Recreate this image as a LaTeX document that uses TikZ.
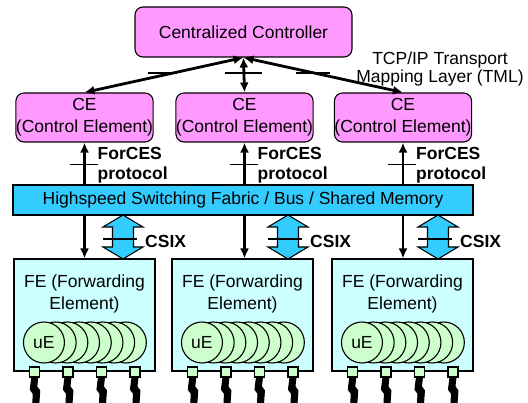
\documentclass[tikz,border=0pt]{standalone}
\usepackage{fontspec}
\setmainfont{Liberation Sans}
\usepackage{xcolor}
\usepackage{tikz}
\usetikzlibrary{arrows.meta}
\usetikzlibrary{calc}
\definecolor{ctlpink}{HTML}{FF99FF}
\definecolor{busblue}{HTML}{33CCFF}
\definecolor{fecyan}{HTML}{CCFFFF}
\definecolor{uegreen}{HTML}{CCFFCC}

\begin{document}
\begin{tikzpicture}[x=1pt,y=-1pt,
    every node/.style={font=\fontsize{17.5}{22}\selectfont},
    ctrlbox/.style={draw,rounded corners=8pt,fill=ctlpink,line width=1.1pt,align=center,inner sep=0pt},
    fabricbox/.style={draw,fill=busblue,line width=1.1pt,minimum width=460,minimum height=30,inner sep=0pt},
    febox/.style={draw,fill=fecyan,line width=1.1pt,minimum width=141,minimum height=112},
    link/.style={line width=2.8pt,-{Latex[length=10pt,width=9pt]}},
    duplink/.style={line width=2.8pt,{Latex[length=10pt,width=9pt]}-{Latex[length=10pt,width=9pt]}},
    tickline/.style={line width=1.5pt},
    csixarrow/.style={draw,fill=busblue,line width=1.1pt,line join=miter},
    boldlabel/.style={font=\fontsize{17.5}{20}\selectfont\bfseries,align=left,inner sep=0pt,anchor=west},
    ueball/.style={circle,draw,fill=uegreen,line width=1.1pt,minimum size=41,inner sep=0pt},
    portbox/.style={draw,fill=uegreen,line width=1.1pt,minimum size=10,inner sep=0pt},
    wire/.style={fill=black,draw=black,line width=1pt,line join=round}]
    \useasboundingbox (0,0) rectangle (528,403);
    % controller and control elements
    \node[ctrlbox,minimum width=217,minimum height=50] (ctrl) at (243.5,32) {Centralized Controller};
    \node[ctrlbox,minimum width=137,minimum height=49] (ce1) at (84.5,117.5) {CE\\(Control Element)};
    \node[ctrlbox,minimum width=137,minimum height=49] (ce2) at (244.5,117.5) {CE\\(Control Element)};
    \node[ctrlbox,minimum width=137,minimum height=49] (ce3) at (403,117.5) {CE\\(Control Element)};
    \node[align=center,font=\fontsize{17.5}{18}\selectfont] (tml) at (440,69) {TCP/IP Transport\\Mapping Layer (TML)};
    \draw[duplink] (ctrl.south) -- (ce1.north);
    \draw[duplink] (ctrl.south) -- (ce2.north);
    \draw[duplink] (ctrl.south) -- (ce3.north);
    \draw[tickline] (148,73) -- (177,73);
    \draw[tickline] (225,73) -- (262,73);
    \draw[tickline] (296,73) -- (330,73);
    %
    \node[fabricbox] (fabric) at (243,200) {Highspeed Switching Fabric / Bus / Shared Memory};
    \foreach \i in {1,2,3} {
      \draw[link] (fabric.north -| ce\i) -- (ce\i.south);
      \draw[tickline] ($(fabric.north -| ce\i)+(-15,-20)$) -- ++(28,0);
      \node[boldlabel] (forces\i) at ($(fabric.north -| ce\i)+(13,-19)$) {ForCES\\protocol};
    }
    % forwarding elements
    \foreach \i/\x/\c in {1/84.5/123,2/242.5/288,3/402.5/438} {
      \node[febox] (fe\i) at (\x,315) {};
      \node[align=center] (fe\i txt) at ($(fe\i)+(0,-21)$) {FE (Forwarding\\Element)};
      \draw[link] (fabric.south -| ce\i) -- (ce\i |- fe\i.north);
      \coordinate (csix\i) at (\c,215);
      \draw[csixarrow] (csix\i) -- ++(20,12) -- ++(-9.5,0) -- ++(0,20) -- ++(9.5,0)
        -- ++(-20,12) -- ++(-20,-12) -- ++(9.5,0) -- ++(0,-20) -- ++(-9.5,0) -- cycle;
      \draw[tickline] ($(csix\i)+(-20,24)$) -- ++(34,0);
      \node[boldlabel] (csixtxt\i) at ($(csix\i)+(22,26)$) {CSIX};
      \foreach \k in {7,6,...,1}
        \node[ueball] (ue\i\k) at ($(fe\i.west)+(30.5+11.7*\k,27.5)$) {};
      \node[ueball] (ue\i0) at ($(fe\i.west)+(30.5,27.5)$) {uE};
      \foreach \p/\dx in {1/21.3,2/54.5,3/88,4/121.5} {
        \node[portbox] (port\i\p) at ($(fe\i.south west)+(\dx,0.5)$) {};
        \draw[wire] ([xshift=-3pt]port\i\p.south) -- ++(6,0) -- ++(-1,9) -- ++(3,4)
          -- ++(-1,14) -- ++(-6,0) -- ++(0.5,-11) -- ++(-3,-4) -- cycle;
      }
    }
  \end{tikzpicture}
\end{document}
